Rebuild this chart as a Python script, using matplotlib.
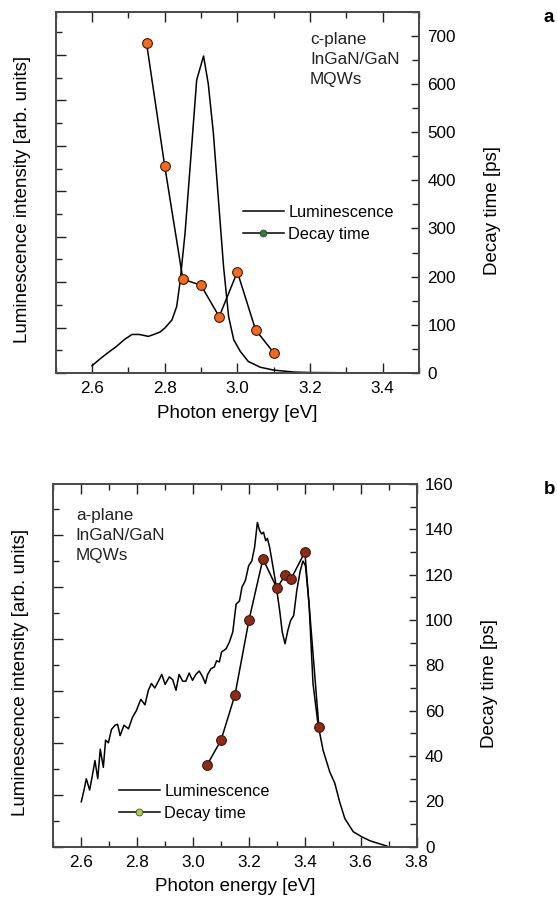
import matplotlib.pyplot as plt
from matplotlib.lines import Line2D
from matplotlib.ticker import MultipleLocator

plt.rcParams['font.family'] = ['Liberation Sans', 'DejaVu Sans']

# --- panel a: c-plane ---
lum_a_e = [2.60, 2.62, 2.64, 2.667, 2.69, 2.71, 2.73, 2.755, 2.77, 2.787, 2.80, 2.82,
           2.833, 2.842, 2.856, 2.87, 2.888, 2.907, 2.92, 2.934, 2.948, 2.962, 2.976,
           2.99, 3.008, 3.03, 3.063, 3.10, 3.155, 3.20, 3.30, 3.45]
lum_a_i = [15, 28, 40, 55, 70, 80, 80, 76, 80, 85, 93, 110,
           138, 187, 290, 428, 608, 658, 600, 498, 359, 221, 117,
           69, 45, 24, 12, 6, 2, 1, 0.5, 0]
dec_a_e = [2.75, 2.80, 2.85, 2.90, 2.95, 3.00, 3.05, 3.10]
dec_a_t = [685, 430, 195, 182, 117, 210, 90, 42]

# --- panel b: a-plane ---
lum_b_e = [2.60, 2.61, 2.618, 2.63, 2.64, 2.649, 2.659, 2.668, 2.679, 2.687, 2.697,
           2.708, 2.721, 2.73, 2.739, 2.753, 2.769, 2.783, 2.797, 2.813, 2.828, 2.84,
           2.851, 2.863, 2.876, 2.888, 2.90, 2.915, 2.927, 2.939, 2.95, 2.963, 2.974,
           2.986, 2.998, 3.01, 3.022, 3.034, 3.044, 3.052, 3.064, 3.076, 3.084, 3.094,
           3.102, 3.118, 3.13, 3.142, 3.154, 3.166, 3.175, 3.187, 3.199, 3.21, 3.22,
           3.23, 3.238, 3.245, 3.252, 3.26, 3.266, 3.274, 3.286, 3.298, 3.31, 3.319,
           3.329, 3.339, 3.349, 3.36, 3.371, 3.383, 3.393, 3.402, 3.415, 3.429, 3.447,
           3.465, 3.489, 3.507, 3.525, 3.543, 3.573, 3.603, 3.633, 3.669, 3.693]
lum_b_i = [19.8, 25, 30, 25, 31.6, 38, 30, 43, 35, 47, 45.8,
           51.7, 53.6, 54, 49, 53.6, 52, 57, 60, 65, 62.6, 69,
           72, 70, 73, 76, 71.6, 74.9, 73.7, 69, 76, 73, 73,
           76.6, 73.4, 76, 77.5, 75, 72, 76, 78.5, 79.3, 82, 81.5,
           85.9, 87.3, 90.3, 94.7, 107, 108.4, 114.5, 117.4, 124, 126, 132,
           143, 139.5, 138, 138.7, 135, 136, 132, 123.4, 114.5, 104, 94.7,
           89.5, 95.4, 99.8, 102, 113, 121.5, 126, 124, 107, 72, 54,
           42.6, 33, 28, 19.5, 12.4, 6.6, 4.4, 2.6, 1.2, 0.3]
dec_b_e = [3.05, 3.10, 3.15, 3.20, 3.25, 3.30, 3.33, 3.35, 3.40, 3.45]
dec_b_t = [36, 47, 67, 100, 127, 114, 120, 118, 130, 53]

W, H = 557, 907
fig = plt.figure(figsize=(W / 100, H / 100), dpi=100)

SPINE = '#4a4a4a'


def panel(rect, lum_e, lum_i, dec_e, dec_t, xlim, ymax, ystep, lstep,
          mcolor, legcolor, note, note_xy, leg_xy, letter, letter_xy):
    ax = fig.add_axes(rect)
    ax.plot(lum_e, lum_i, color='black', lw=1.1)
    ax.set_xlim(*xlim)
    ax.set_ylim(0, ymax)
    ax.xaxis.set_major_locator(MultipleLocator(0.2))
    ax.xaxis.set_minor_locator(MultipleLocator(0.1))
    ax.xaxis.set_major_formatter(plt.FormatStrFormatter('%.1f'))
    ax.yaxis.set_major_locator(MultipleLocator(2 * lstep))
    ax.yaxis.set_minor_locator(MultipleLocator(lstep))
    ax.set_yticklabels([])
    ax.tick_params(which='both', direction='in', top=True, right=False,
                   color='#222222', labelsize=12.3, pad=6)
    ax.tick_params(which='major', length=7, width=1)
    ax.tick_params(which='minor', length=4, width=1)
    ax.set_xlabel('Photon energy [eV]', fontsize=13.5, labelpad=6)
    ax.set_ylabel('Luminescence intensity [arb. units]', fontsize=13.5)
    ax.yaxis.set_label_coords(-0.068, 0.48)

    ax2 = ax.twinx()
    ax2.plot(dec_e, dec_t, color='black', lw=1.1, marker='o', ms=7,
             mfc=mcolor, mec='#3a1a0a', mew=0.8)
    ax2.set_ylim(0, ymax)
    ax2.yaxis.set_major_locator(MultipleLocator(ystep))
    ax2.yaxis.set_minor_locator(MultipleLocator(ystep / 2))
    ax2.tick_params(which='both', direction='in', color='#222222',
                    labelsize=12.3, pad=6)
    ax2.tick_params(which='major', length=6, width=1)
    ax2.tick_params(which='minor', length=5, width=1)
    ax2.set_ylabel('Decay time [ps]', fontsize=13.5)
    ax2.yaxis.set_label_coords(1.178, 0.45)

    for a in (ax, ax2):
        for s in a.spines.values():
            s.set_color(SPINE)
            s.set_linewidth(1.3)

    ax2.text(note_xy[0], note_xy[1], note, transform=ax2.transAxes,
             fontsize=12.3, va='top', ha='left', linespacing=1.45,
             color='#222222')

    handles = [Line2D([], [], color='black', lw=1.1),
               Line2D([], [], color='black', lw=1.1, marker='o', ms=5,
                      mfc=legcolor, mec='#333333', mew=0.5)]
    ax2.legend(handles, ['Luminescence', 'Decay time'], loc='upper left',
               bbox_to_anchor=leg_xy, bbox_transform=fig.transFigure,
               frameon=False, fontsize=11.7, handlelength=2.5,
               handletextpad=0.3, labelspacing=0.42, borderpad=0,
               borderaxespad=0, numpoints=1)

    fig.text(letter_xy[0], letter_xy[1], letter, fontsize=13.5,
             fontweight='bold', ha='center', va='center')
    return ax, ax2


panel([55.7 / W, 1 - 373 / H, (419 - 55.7) / W, (373 - 11.7) / H],
      lum_a_e, lum_a_i, dec_a_e, dec_a_t, (2.5, 3.5), 750, 100, 47.15,
      '#f26a22', '#2e7d3a', 'c-plane\nInGaN/GaN\nMQWs', (0.70, 0.945),
      (243 / W, 1 - 205 / H), 'a', (549 / W, 1 - 18 / H))

panel([53.3 / W, 1 - 846.7 / H, (416.7 - 53.3) / W, (846.7 - 484) / H],
      lum_b_e, lum_b_i, dec_b_e, dec_b_t, (2.5, 3.8), 160, 20, 11.45,
      '#8c2a1c', '#a8d04a', 'a-plane\nInGaN/GaN\nMQWs', (0.062, 0.935),
      (119 / W, 1 - 784 / H), 'b', (550 / W, 1 - 489 / H))

fig.savefig('out.png', dpi=100)
